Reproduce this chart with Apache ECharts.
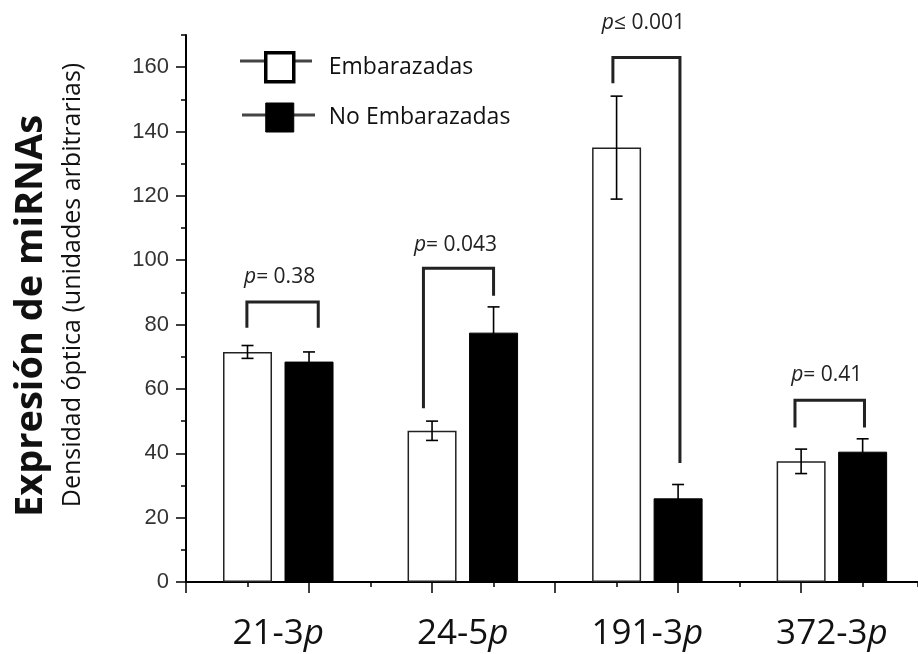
<!DOCTYPE html>
<html>
<head>
<meta charset="utf-8">
<script src="https://cdn.jsdelivr.net/npm/echarts@6.0.0/dist/echarts.min.js"></script>
<style>
html,body{margin:0;padding:0;background:#fff;}
#chart{width:918px;height:654px;}
</style>
</head>
<body>
<div id="chart"></div>
<script>
// ---- data ----
const categories = ['21-3p', '24-5p', '191-3p', '372-3p'];
const seriesNames = ['Embarazadas', 'No Embarazadas'];
const embarazadas = [71.5, 47, 135, 37.5];
const embarazadasErr = [2, 3, 16, 3.8];
const noEmbarazadas = [68.5, 77.5, 26, 40.5];
const noEmbarazadasErr = [3, 8, 4.3, 4];
const yTickValues = [0, 20, 40, 60, 80, 100, 120, 140, 160];
const pOps = ['=', '=', '\u2264', '='];
const pValues = ['0.38', '0.043', '0.001', '0.41'];
// significance brackets (in data units)
const bracketX1 = [0.99, 3.86, 6.94, 9.9];
const bracketX2 = [2.15, 5.0, 8.03, 11.03];
const bracketTop = [87, 97.5, 163, 56.5];
const bracketLeftEnd = [79, 54, 155, 48];
const bracketRightEnd = [79, 89, 37, 48];
const pLabelY = [94.7, 104.7, 173.6, 64.3];
const yAxisTitle = 'Expresión de miRNAs';
const yAxisSubtitle = 'Densidad óptica (unidades arbitrarias)';

// ---- derived ----
const posE = categories.map((c, i) => 3 * i + 1);
const posN = categories.map((c, i) => 3 * i + 2);
const labelPos = categories.map((c, i) => 3 * i + 1.5);
const majorX = [0, 2, 4, 6, 8, 10];
const X_MAX = 11.9;

const barE = embarazadas.map((v, i) => [posE[i], v]);
const barN = noEmbarazadas.map((v, i) => [posN[i], v]);
const errData = embarazadas.map((v, i) => [posE[i], v - embarazadasErr[i], v + embarazadasErr[i]])
  .concat(noEmbarazadas.map((v, i) => [posN[i], v - noEmbarazadasErr[i], v + noEmbarazadasErr[i]]));
const bracketData = bracketTop.map((t, i) => [bracketX1[i], t, bracketX2[i], bracketLeftEnd[i], bracketRightEnd[i], pLabelY[i], i]);

const FONT = '"Open Sans", sans-serif';
const TXT = '#111';

const chart = echarts.init(document.getElementById('chart'), null, {renderer: 'canvas'});

const option = {
  backgroundColor: '#ffffff',
  animation: false,
  grid: {left: 186, right: 0, top: 35, bottom: 72, containLabel: false},
  legend: {
    orient: 'vertical',
    left: 259,
    top: 46,
    itemWidth: 28,
    itemHeight: 29,
    itemGap: 19,
    icon: 'rect',
    z: 10,
    textStyle: {fontFamily: FONT, fontSize: 23, color: TXT, padding: [0, 0, 0, 30]},
    data: [
      {name: seriesNames[0], itemStyle: {color: '#ffffff', borderColor: '#000', borderWidth: 3.5}},
      {name: seriesNames[1], itemStyle: {color: '#000000', borderColor: '#000', borderWidth: 1}}
    ]
  },
  graphic: [
    {type: 'line', z: 1, shape: {x1: 240, y1: 61, x2: 312, y2: 61}, style: {stroke: '#444', lineWidth: 3}},
    {type: 'line', z: 1, shape: {x1: 242, y1: 115, x2: 315, y2: 115}, style: {stroke: '#444', lineWidth: 3}},
    {type: 'text', x: 31, y: 316, rotation: Math.PI / 2,
      style: {text: yAxisTitle, fontFamily: FONT, fontWeight: 'bold', fontSize: 38, fill: TXT, align: 'center', verticalAlign: 'middle'}},
    {type: 'text', x: 73, y: 285, rotation: Math.PI / 2,
      style: {text: yAxisSubtitle, fontFamily: FONT, fontSize: 25, fill: TXT, align: 'center', verticalAlign: 'middle'}}
  ],
  xAxis: [
    {
      type: 'value', min: 0, max: X_MAX, interval: 1,
      splitLine: {show: false},
      axisLine: {show: true, lineStyle: {color: '#000', width: 2}},
      axisTick: {show: true, length: 5, lineStyle: {color: '#000', width: 1.5}},
      axisLabel: {
        show: true, margin: 35,
        customValues: labelPos,
        formatter: function (v) {
          const idx = labelPos.findIndex(p => Math.abs(p - v) < 1e-6);
          if (idx < 0) return '';
          const c = categories[idx];
          return '{n|' + c.slice(0, -1) + '}{i|' + c.slice(-1) + '}';
        },
        rich: {
          n: {fontFamily: FONT, fontSize: 35, color: TXT},
          i: {fontFamily: FONT, fontSize: 35, fontStyle: 'italic', color: TXT}
        }
      }
    },
    {
      type: 'value', min: 0, max: X_MAX, position: 'bottom',
      splitLine: {show: false},
      axisLine: {show: false},
      axisTick: {show: true, length: 11, customValues: majorX, lineStyle: {color: '#000', width: 1.5}},
      axisLabel: {show: false}
    }
  ],
  yAxis: [
    {
      type: 'value', min: 0, max: 170, interval: 20,
      splitLine: {show: false},
      axisLine: {show: true, lineStyle: {color: '#000', width: 2}},
      axisTick: {show: true, length: 10, customValues: yTickValues, lineStyle: {color: '#000', width: 1.5}},
      axisLabel: {show: true, margin: 17, customValues: yTickValues, fontFamily: '"Liberation Sans", Arial, sans-serif', fontSize: 22, color: '#333'}
    },
    {
      type: 'value', min: 0, max: 170, interval: 10, position: 'left',
      splitLine: {show: false},
      axisLine: {show: false},
      axisTick: {show: true, length: 5, lineStyle: {color: '#000', width: 1.5}},
      axisLabel: {show: false}
    }
  ],
  series: [
    {
      name: seriesNames[0], type: 'bar', xAxisIndex: 0, yAxisIndex: 0,
      data: barE, barWidth: 49, barGap: '-100%',
      itemStyle: {color: '#ffffff', borderColor: '#222', borderWidth: 1.5}
    },
    {
      name: seriesNames[1], type: 'bar', xAxisIndex: 0, yAxisIndex: 0,
      data: barN, barWidth: 49, barGap: '-100%',
      itemStyle: {color: '#000000', borderColor: '#000', borderWidth: 1}
    },
    {
      type: 'custom', name: 'err', xAxisIndex: 0, yAxisIndex: 0, z: 5,
      data: errData,
      renderItem: function (params, api) {
        const x = api.value(0);
        const lo = api.coord([x, api.value(1)]);
        const hi = api.coord([x, api.value(2)]);
        const cap = 6;
        const st = {stroke: '#000', lineWidth: 1.6};
        return {type: 'group', children: [
          {type: 'line', shape: {x1: hi[0], y1: hi[1], x2: lo[0], y2: lo[1]}, style: st},
          {type: 'line', shape: {x1: hi[0] - cap, y1: hi[1], x2: hi[0] + cap, y2: hi[1]}, style: st},
          {type: 'line', shape: {x1: lo[0] - cap, y1: lo[1], x2: lo[0] + cap, y2: lo[1]}, style: st}
        ]};
      }
    },
    {
      type: 'custom', name: 'brackets', xAxisIndex: 0, yAxisIndex: 0, z: 6, clip: false,
      data: bracketData,
      renderItem: function (params, api) {
        const x1 = api.value(0), top = api.value(1), x2 = api.value(2);
        const lb = api.value(3), rb = api.value(4), ly = api.value(5), i = api.value(6);
        const a = api.coord([x1, lb]);
        const b = api.coord([x1, top]);
        const c = api.coord([x2, top]);
        const d = api.coord([x2, rb]);
        const t = api.coord([(x1 + x2) / 2, ly]);
        return {type: 'group', children: [
          {type: 'polyline', shape: {points: [a, b, c, d]}, style: {stroke: '#222', lineWidth: 3, fill: null}},
          {type: 'text', x: t[0] - 3, y: t[1], style: {
            text: '{i|p}{n|' + pOps[i] + ' ' + pValues[i] + '}',
            align: 'center', verticalAlign: 'middle',
            rich: {
              i: {fontFamily: FONT, fontSize: 21, fontStyle: 'italic', fill: '#222', color: '#222'},
              n: {fontFamily: FONT, fontSize: 21, fill: '#222', color: '#222'}
            }
          }}
        ]};
      }
    }
  ]
};
chart.setOption(option);
</script>
</body>
</html>
